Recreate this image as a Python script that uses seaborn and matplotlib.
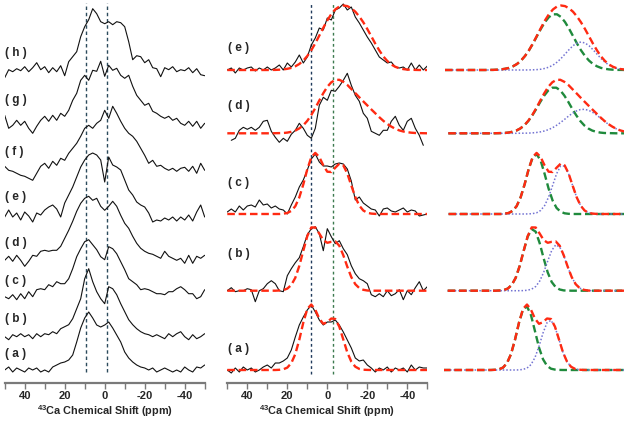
import matplotlib
matplotlib.use("Agg")
import matplotlib.pyplot as plt
import seaborn as sns
import numpy as np

# chemical shift grid (ppm), 50 -> -50 in 2 ppm steps
ppm = np.arange(50, -51, -2)
nan = np.nan

# ---- left panel: raw spectra (h) .. (a), heights above own baseline ----
raw_h = [-6, 2, 0, 3, 1, 5, 0, 4, 9, 2, 5, -1, 4, 0, 6, -4, 10, 15, 20, 35,
         45, 52, 63, 58, 50, 48, 50, 47, 50, 49, 45, 30, 12, 16, 15, 9, 12, 4, 3, -5,
         4, 2, 5, 0, 2, 1, 4, -1, 3, -3, -4]
raw_g = [8, -5, -2, 3, -2, 2, -5, -10, -3, 3, 7, 2, 8, 3, 10, 7, 13, 23, 30, 43,
         48, 43, 53, 52, 62, 47, 58, 53, 55, 48, 45, 48, 37, 28, 23, 18, 20, 12, 10, 7,
         5, 7, 3, 5, 0, -2, 2, -3, 2, -5, 0]
raw_f = [2, -2, -3, -5, -7, -8, -10, -12, -5, 2, 5, 0, 7, 3, 10, 8, 15, 20, 25, 32,
         40, 43, 40, 45, 48, 58, 50, 62, 55, 47, 40, 35, 32, 27, 20, 13, 5, 8, 2, 3,
         0, -2, 0, -3, 0, 1, -3, 2, -5, 5, -2]
raw_e = [-2, 5, -2, 2, -5, 3, -1, -7, 2, 0, 5, 8, 10, 6, -2, 12, 20, 28, 38, 48,
         55, 60, 62, 60, 55, 33, 58, 50, 48, 45, 35, 25, 20, 13, 10, 8, 2, -7, -5, -6,
         -3, -5, -2, -6, -2, -5, 0, -6, 3, 10, -2]
raw_d = [-2, 2, -3, 3, -2, -8, -3, 3, 2, 7, 8, 7, 8, 8, 12, 20, 28, 37, 47, 55,
         60, 62, 58, 60, 52, 48, 52, 57, 52, 43, 35, 30, 22, 15, 10, 7, 5, 4, 2, 0,
         7, 2, 0, -2, 0, -5, 3, -5, 2, 0, 3]
raw_c = [0, -2, 2, -3, 3, -2, 5, 0, 7, 8, 7, 12, 10, 15, 13, 13, 18, 28, 40, 48,
         55, 57, 52, 47, 40, 37, 50, 48, 43, 35, 27, 18, 15, 12, 7, 8, 7, 5, 3, 3,
         2, 5, 5, 8, 10, 7, 3, 3, -2, 0, 7]
raw_b = [0, -3, 2, 0, 3, 0, 2, -2, 3, 0, 3, 2, 5, 3, 8, 10, 12, 18, 28, 38,
         58, 68, 55, 45, 38, 33, 50, 48, 42, 33, 25, 17, 12, 8, 5, 3, 2, 0, 2, 0,
         -2, 3, 0, 3, 5, 0, -3, 2, -2, 0, 3]
raw_a = [0, 3, -2, 2, 0, -2, 2, 0, 2, -2, 0, -2, 3, 5, 7, 8, 10, 15, 28, 42,
         52, 58, 52, 45, 43, 45, 48, 42, 35, 28, 18, 12, 8, 5, 3, 2, 0, 2, -2, 0,
         2, 0, -2, 0, -2, 3, 0, -2, 3, 2, 5]

# ---- middle panel: selected spectra (e) .. (a) ----
sel_e = [0, 2, -3, 2, 0, 2, 3, -1, 2, 0, 3, 0, 2, 5, 0, 7, 3, 8, 15, 7,
         13, 25, 32, 42, 40, 52, 50, 60, 62, 66, 60, 63, 53, 47, 40, 33, 27, 20, 13, 10,
         7, 8, 3, 2, 3, 0, 7, 0, 5, 0, 4]
sel_d = [nan, -7, -5, 3, 6, 4, 6, 3, 6, 12, 13, 2, -4, -9, -5, -8, -1, 3, 10, 5,
         -2, -5, 5, 28, 36, 33, 43, 42, 47, 53, 60, 48, 38, 32, 20, 15, 2, 0, -2, 3,
         3, 12, 17, 8, 3, 12, 15, 5, -2, -12, nan]
sel_c = [2, 5, 2, 8, 4, 8, 9, 7, 14, 9, 10, 6, 8, 5, 4, 0, 9, 17, 27, 34,
         44, 55, 60, 52, 48, 48, 47, 50, 51, 50, 45, 33, 14, 17, 11, 8, 5, 4, -2, 5,
         6, 3, 2, 4, 6, 2, 4, 3, -2, -1, 0]
sel_b = [0, 3, -1, 0, 0, 2, 1, -11, 0, 2, 7, 10, 7, 0, -1, 15, 22, 28, 33, 44,
         56, 62, 64, 57, 40, 62, 54, 47, 50, 42, 36, 25, 17, 12, 10, 7, -4, -6, -3, -6,
         0, -5, -3, 1, -9, 0, -4, 3, 9, 0, 4]
sel_a = [0, -3, 2, -2, 3, 0, 2, -2, 0, 3, 5, 2, 7, 7, 9, 12, 20, 33, 45, 53,
         60, 65, 58, 50, 45, 48, 48, 50, 45, 38, 30, 22, 12, 9, 10, 5, 2, -2, 2, 0,
         3, -2, 2, 0, 2, -2, 5, 0, 3, 2, 2]

# ---- fitted components (site 1 = green, site 2 = blue) ----
site1_e = [0.0] * 11 + [0.1, 0.1, 0.3, 0.6, 1.2, 2.1, 3.7, 6.0, 9.4, 14.0, 19.7, 26.5,
                        34.0, 41.4, 48.0, 53.0, 55.7, 55.7, 53.0, 48.0, 41.4, 34.0, 26.5,
                        19.7, 14.0, 9.4, 6.0, 3.7, 2.1, 1.2, 0.6, 0.3, 0.1, 0.1] + [0.0] * 6
site2_e = [0.0] * 21 + [0.1, 0.2, 0.4, 0.8, 1.6, 2.9, 4.9, 7.8, 11.5, 15.9, 20.3, 24.3,
                        27.0, 28.0, 27.0, 24.3, 20.3, 15.9, 11.5, 7.8, 4.9, 2.9, 1.6, 0.8,
                        0.4, 0.2, 0.1] + [0.0] * 3
site1_d = [0.0] * 12 + [0.1, 0.2, 0.3, 0.7, 1.5, 2.7, 4.8, 7.9, 12.3, 17.9, 24.4, 31.4,
                        37.8, 42.9, 45.6, 45.6, 42.9, 37.8, 31.4, 24.4, 17.9, 12.3, 7.9,
                        4.8, 2.7, 1.5, 0.7, 0.3, 0.2, 0.1] + [0.0] * 9
site2_d = [0.0] * 18 + [0.1, 0.1, 0.2, 0.4, 0.8, 1.4, 2.3, 3.6, 5.4, 7.8, 10.6, 13.7,
                        17.0, 19.9, 22.3, 23.7, 24.0, 23.1, 21.2, 18.5, 15.4, 12.2, 9.1,
                        6.6, 4.5, 2.9, 1.8, 1.1, 0.6, 0.3, 0.2, 0.1] + [0.0]
site1_c = [0.0] * 14 + [0.3, 1.0, 3.1, 7.8, 16.6, 29.6, 44.6, 56.4, 59.9, 53.5, 40.2,
                        25.4, 13.5, 6.0, 2.3, 0.7, 0.2] + [0.0] * 20
site2_c = [0.0] * 20 + [0.1, 0.4, 1.2, 3.5, 8.4, 16.9, 28.5, 40.3, 48.0, 48.0, 40.3,
                        28.5, 16.9, 8.4, 3.5, 1.2, 0.4, 0.1] + [0.0] * 13
site1_b = [0.0] * 13 + [0.2, 0.6, 2.1, 5.7, 12.9, 24.8, 39.9, 54.1, 61.7, 59.0, 47.5,
                        32.2, 18.3, 8.7, 3.5, 1.2, 0.3, 0.1] + [0.0] * 20
site2_b = [0.0] * 19 + [0.1, 0.5, 1.6, 4.2, 9.6, 18.4, 29.6, 40.2, 45.8, 43.8, 35.2,
                        23.9, 13.6, 6.5, 2.6, 0.9, 0.2] + [0.0] * 15
site1_a = [0.0] * 13 + [0.2, 0.7, 2.4, 6.9, 15.9, 30.3, 47.3, 60.5, 63.6, 54.8, 38.8,
                        22.5, 10.8, 4.2, 1.3, 0.4, 0.1] + [0.0] * 21
site2_a = [0.0] * 19 + [0.1, 0.6, 1.9, 5.4, 12.5, 23.7, 37.0, 47.3, 49.7, 42.9, 30.4,
                        17.6, 8.4, 3.3, 1.1, 0.3, 0.1] + [0.0] * 15

left_names = ["h", "g", "f", "e", "d", "c", "b", "a"]
left_series = [raw_h, raw_g, raw_f, raw_e, raw_d, raw_c, raw_b, raw_a]
mid_names = ["e", "d", "c", "b", "a"]
mid_series = [sel_e, sel_d, sel_c, sel_b, sel_a]
site1 = [site1_e, site1_d, site1_c, site1_b, site1_a]
site2 = [site2_e, site2_d, site2_c, site2_b, site2_a]
left_refs = [9.5, -1.0]
mid_refs = [8.3, -3.0]

# layout (pixel rows of each stacked baseline, label positions)
W, H = 629, 421
AXIS_Y = 383
left_base = [71.7, 123.3, 168.3, 215.0, 258.3, 296.7, 336.7, 370.0]
left_lab_y = [53, 100, 152, 197, 243, 281, 319, 354]
mid_base = [70.0, 133.3, 214.0, 290.7, 370.0]
mid_lab_y = [48, 106, 183, 254, 349]
right_shift = [-0.5, 1.15, 1.3, 0.85, -1.5]

sns.set_style("white")
plt.rcParams["font.family"] = ["Liberation Sans", "DejaVu Sans"]
plt.rcParams["axes.unicode_minus"] = False
plt.rcParams["mathtext.fontset"] = "custom"
plt.rcParams["mathtext.bf"] = "Liberation Sans:bold"
plt.rcParams["mathtext.rm"] = "Liberation Sans:bold"

BLACK = "#111111"
RED = "#ff2a12"
GREEN = "#1f8a3c"
BLUE = "#7373d2"
DASH = (0, (3.2, 1.6))


def line(ax, x, y, **kw):
    sns.lineplot(x=x, y=y, ax=ax, estimator=None, sort=False, **kw)


def spectrum_axes(left_px):
    ax = fig.add_axes([left_px / W, (H - AXIS_Y) / H, 200 / W, AXIS_Y / H])
    ax.set_xlim(50, -50)
    ax.set_ylim(-AXIS_Y, 0)
    sns.despine(ax=ax, left=True)
    ax.spines["bottom"].set_color("#7a7a7a")
    ax.spines["bottom"].set_linewidth(1.6)
    ax.set_yticks([])
    ax.set_xticks([40, 20, 0, -20, -40])
    ax.set_xticks(np.arange(50, -51, -10), minor=True)
    ax.tick_params(axis="x", which="both", direction="out", length=4, width=1,
                   color="#7a7a7a", bottom=True, pad=2)
    ax.set_xticklabels(["40", "20", "0", "-20", "-40"], fontsize=8, fontweight="bold")
    ax.set_xlabel(r"$^{\mathbf{43}}$Ca Chemical Shift (ppm)", fontsize=7.8,
                  fontweight="bold", labelpad=1)
    return ax


fig = plt.figure(figsize=(W / 100, H / 100), dpi=100)

# left panel
ax1 = spectrum_axes(4.7)
ax1.vlines(left_refs, -372, -3, colors="#2c4b5c", linewidth=1.0,
           linestyles=[(0, (2.5, 2.0))])
for name, vals, base, ly in zip(left_names, left_series, left_base, left_lab_y):
    line(ax1, ppm, np.array(vals, dtype=float) - base, color=BLACK, linewidth=0.8)
    fig.text(5 / W, 1 - ly / H, f"( {name} )", fontsize=8.5, fontweight="bold",
             va="center", ha="left")

# middle panel
ax2 = spectrum_axes(227.3)
ax2.vlines(mid_refs[0], -374, -3, colors="#1f3a5c", linewidth=1.0,
           linestyles=[(0, (2.0, 2.0))])
ax2.vlines(mid_refs[1], -374, -3, colors="#3b7a4e", linewidth=1.0,
           linestyles=[(0, (2.0, 2.0))])
for i, name in enumerate(mid_names):
    total = np.array(site1[i]) + np.array(site2[i])
    base = mid_base[i]
    line(ax2, ppm, np.array(mid_series[i], dtype=float) - base, color=BLACK, linewidth=0.8)
    line(ax2, ppm, total - base, color=RED, linewidth=1.7, linestyle=DASH)
    fig.text(228 / W, 1 - mid_lab_y[i] / H, f"( {name} )", fontsize=8.5,
             fontweight="bold", va="center", ha="left")

# right panel: deconvolution components
ax3 = fig.add_axes([444 / W, (H - AXIS_Y) / H, 180 / W, AXIS_Y / H])
ax3.set_xlim(51, -39)
ax3.set_ylim(-AXIS_Y, 0)
ax3.axis("off")
for i in range(len(mid_names)):
    x = ppm - right_shift[i]
    base = mid_base[i]
    s1 = np.array(site1[i])
    s2 = np.array(site2[i])
    line(ax3, x, s1 - base, color=GREEN, linewidth=1.7, linestyle=DASH)
    line(ax3, x, s2 - base, color=BLUE, linewidth=1.1, linestyle=(0, (1, 1.3)))
    line(ax3, x, s1 + s2 - base, color=RED, linewidth=1.7, linestyle=DASH)

fig.savefig("out.png", dpi=100)
